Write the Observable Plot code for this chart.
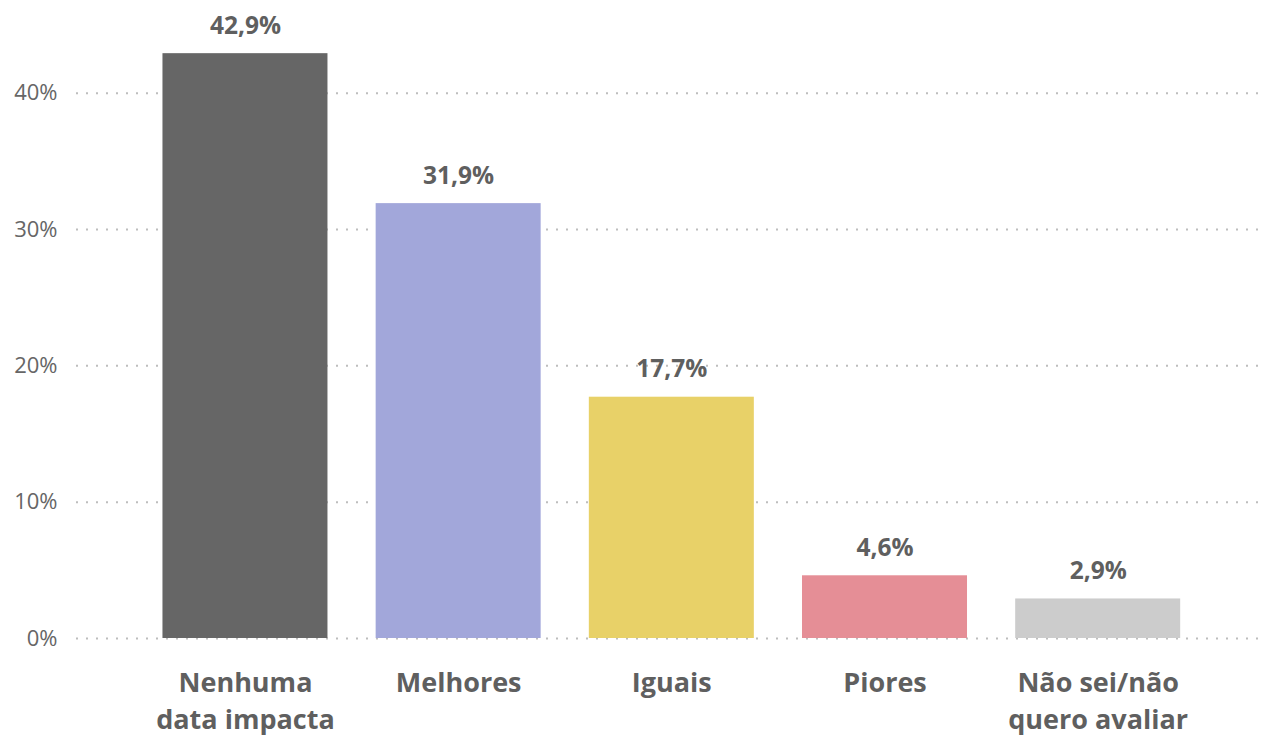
<!DOCTYPE html>
<html>
<head>
<meta charset="utf-8">
<script src="https://cdn.jsdelivr.net/npm/d3@7"></script>
<script src="https://cdn.jsdelivr.net/npm/@observablehq/plot@0.6"></script>
<style>
  html, body { margin: 0; padding: 0; background: #fff; }
  #chart svg { display: block; }
</style>
</head>
<body>
<div id="chart"></div>
<script>
const categories = ["Nenhuma\ndata impacta", "Melhores", "Iguais", "Piores", "Não sei/não\nquero avaliar"];
const values = [0.429, 0.319, 0.177, 0.046, 0.029];
const colors = ["#666666", "#A2A7DA", "#E8D168", "#E58E96", "#CCCCCC"];
const yTicks = [0, 0.1, 0.2, 0.3, 0.4];

const data = categories.map((c, i) => ({category: c, value: values[i], color: colors[i]}));
const fmtPct = v => (v * 100).toFixed(1).replace(".", ",") + "%";
const font = "'Open Sans', 'Noto Sans', sans-serif";

const chart = Plot.plot({
  width: 1267,
  height: 738,
  marginLeft: 76,
  marginRight: 7,
  marginTop: 0,
  marginBottom: 100,
  style: {fontFamily: font, background: "#fff"},
  x: {domain: categories, paddingInner: 0.226, paddingOuter: 0.39, align: 0.52, round: false, axis: null, label: null},
  y: {domain: [0, 0.468], axis: null, label: null},
  marks: [
    Plot.gridY(yTicks, {stroke: "#bdbdbd", strokeOpacity: 1, strokeWidth: 2, strokeDasharray: "2 8"}),
    Plot.axisY(yTicks, {tickSize: 0, tickPadding: 19, tickFormat: d => Math.round(d * 100) + "%", fontSize: 22, fill: "#666", anchor: "left", label: null}),
    Plot.barY(data, {x: "category", y: "value", fill: "color"}),
    Plot.text(data, {x: "category", y: "value", text: d => fmtPct(d.value), dy: -20, lineAnchor: "bottom", fontSize: 24.5, fontWeight: "bold", fill: "#5f5f5f"}),
    Plot.axisX(categories, {tickSize: 0, tickPadding: 27, fontSize: 27, fontWeight: "bold", fill: "#5f5f5f", lineHeight: 1.38, anchor: "bottom", label: null})
  ]
});
document.getElementById("chart").appendChild(chart);
</script>
</body>
</html>
